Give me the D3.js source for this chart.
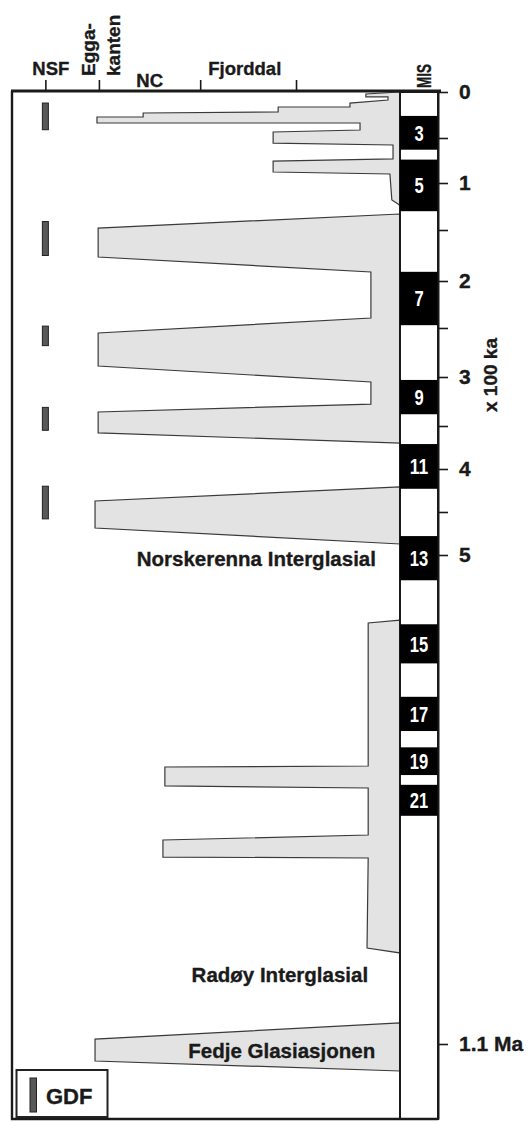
<!DOCTYPE html>
<html>
<head>
<meta charset="utf-8">
<script src="https://cdn.jsdelivr.net/npm/d3@7"></script>
<style>
  html, body { margin: 0; padding: 0; background: #fff; }
  svg { display: block; font-family: "Liberation Sans", Arial, Helvetica, sans-serif; font-weight: bold; }
  .heavy { stroke: #1a1a1a; stroke-width: 0.35px; paint-order: stroke; }
</style>
</head>
<body>
<svg id="chart" width="530" height="1122"></svg>
<script>
// ---- Age axis (ka) ----
const ageTicks = [0, 50, 100, 150, 200, 250, 300, 350, 400, 450, 500, 1100];
const ageTickLabels = { 0: "0", 100: "1", 200: "2", 300: "3", 400: "4", 500: "5", 1100: "1.1 Ma" };

// ---- Ice extent axis (0 = outer frame, 100 = fjord head) ----
const extentTicks = [8.6, 22.4, 48.5, 73.2];
const zoneNames = ["NSF", "NC", "Fjorddal"];
const zoneCentres = [10.0, 35.5, 60.0];

// ---- Marine isotope stages (warm stages, ka) ----
const misStage = [3, 5, 7, 9, 11, 13, 15, 17, 19, 21];
const misStart = [26, 74, 191, 303, 371, 478, 585, 674, 736, 782];
const misEnd   = [63, 130, 247, 338, 423, 531, 633, 716, 770, 820];

// ---- GDF occurrences at NSF (ka) ----
const gdfStart = [12, 141, 248, 331, 420];
const gdfEnd   = [41, 175, 268, 355, 458];
const gdfExtent = 8.6;

// ---- Ice extent outlines: [extent, age ka] ----
const iceLateWeichsel = [
  [100, 0], [91.2, 2.2], [91.2, 5.4], [96.9, 5.4], [96.9, 8.7], [87.1, 12.0], [87.1, 16.3],
  [68.6, 16.3], [68.6, 21.7], [33.8, 22.8], [33.8, 27.2], [21.9, 27.2], [21.9, 33.7],
  [89.7, 33.7], [89.7, 41.3], [67.3, 43.5], [67.3, 55.6], [98.2, 57.8], [98.2, 73.3],
  [67.3, 75.6], [67.3, 87.8], [97.4, 90.0], [97.9, 118.1], [99.5, 122.3], [100, 124.5]
];
const iceSaalian = [
  [100, 133.0], [22.2, 147.9], [22.2, 176.5], [92.5, 191.2], [92.5, 239.4],
  [22.2, 255.1], [22.2, 288.8], [92.5, 305.1], [92.5, 327.6],
  [22.2, 335.7], [22.2, 358.1], [100, 369.8]
];
const iceMIS12 = [[100, 420.9], [21.4, 437.2], [21.4, 468.6], [100, 487.2]];
const iceMIS16to22 = [
  [100, 579.8], [91.8, 583.4], [91.8, 758.9], [39.4, 760.1], [39.4, 783.4],
  [91.8, 785.9], [91.8, 843.6], [38.9, 849.7], [38.9, 870.6], [91.8, 871.8],
  [91.5, 982.2], [100, 988.3]
];
const iceFedje = [[100, 1074.2], [21.4, 1093.9], [21.4, 1120.9], [100, 1133.1]];
const icePolygons = [iceLateWeichsel, iceSaalian, iceMIS12, iceMIS16to22, iceFedje];

// ---- Period labels: [text, extent (right end), age] ----
const periodNames = ["Norskerenna Interglasial", "Radøy Interglasial", "Fedje Glasiasjonen"];
const periodExtent = [93.8, 91.8, 93.6];
const periodAge = [514, 1024, 1117];

// ---- Layout ----
const svg = d3.select("#chart");
const ink = "#1a1a1a";
const colLeft = 400, colRight = 438, frameLeft = 12, frameTop = 91;

const x = d3.scaleLinear().domain([0, 100]).range([frameLeft, colLeft]);
const y = d3.scaleLinear()
  .domain([0, 50, 100, 150, 200, 250, 300, 350, 400, 450, 500, 1100, 1192])
  .range([92, 138, 183, 230, 281, 328, 377, 426, 469, 512, 555, 1044, 1119]);
const yBottom = y(1192);

// ice extent polygons
const line = d3.line().x(d => x(d[0])).y(d => y(d[1]));
svg.append("g").selectAll("path").data(icePolygons).join("path")
  .attr("d", d => line(d) + "Z")
  .attr("fill", "#e3e3e3")
  .attr("stroke", "#3a3a3a")
  .attr("stroke-width", 1.2)
  .attr("stroke-linejoin", "miter");

// GDF bars
svg.append("g").selectAll("rect").data(gdfStart).join("rect")
  .attr("x", x(gdfExtent) - 3)
  .attr("width", 6)
  .attr("y", (d, i) => y(d))
  .attr("height", (d, i) => y(gdfEnd[i]) - y(d))
  .attr("fill", "#585858")
  .attr("stroke", "#222")
  .attr("stroke-width", 1);

// MIS column
svg.append("rect")
  .attr("x", colLeft).attr("y", y(0))
  .attr("width", colRight - colLeft).attr("height", yBottom - y(0))
  .attr("fill", "#fff").attr("stroke", ink).attr("stroke-width", 2);
svg.append("g").selectAll("rect").data(misStage).join("rect")
  .attr("x", colLeft).attr("width", colRight - colLeft)
  .attr("y", (d, i) => y(misStart[i]))
  .attr("height", (d, i) => y(misEnd[i]) - y(misStart[i]))
  .attr("fill", "#000");
svg.append("g").selectAll("text").data(misStage).join("text")
  .attr("x", (colLeft + colRight) / 2)
  .attr("y", (d, i) => (y(misStart[i]) + y(misEnd[i])) / 2)
  .attr("dy", "0.36em")
  .attr("text-anchor", "middle")
  .attr("font-size", 22)
  .attr("textLength", d => String(d).length * 9.2)
  .attr("lengthAdjust", "spacingAndGlyphs")
  .attr("fill", "#fff")
  .text(d => d);

// right age axis
const yAxis = svg.append("g")
  .attr("transform", `translate(${colRight},0)`)
  .call(d3.axisRight(y).tickValues(ageTicks).tickSize(10).tickSizeOuter(0).tickPadding(11)
    .tickFormat(d => ageTickLabels[d] || ""));
yAxis.select(".domain").attr("stroke", ink).attr("stroke-width", 2);
yAxis.selectAll(".tick line").attr("stroke", ink).attr("stroke-width", 1.6);
yAxis.selectAll(".tick text").attr("font-size", 21).attr("fill", ink)
  .attr("class", "heavy")
  .attr("font-family", "Liberation Sans, Arial, sans-serif").attr("font-weight", "bold");

svg.append("text")
  .attr("class", "heavy")
  .attr("transform", `translate(497,${(y(200) + y(400)) / 2}) rotate(-90)`)
  .attr("text-anchor", "middle")
  .attr("font-size", 19).attr("fill", ink)
  .text("x 100 ka");

// top extent axis
const xAxis = svg.append("g")
  .attr("transform", `translate(0,${frameTop})`)
  .call(d3.axisTop(x).tickValues(extentTicks).tickSize(11).tickFormat(""));
xAxis.select(".domain").remove();
xAxis.selectAll(".tick line").attr("stroke", ink).attr("stroke-width", 1.6);

svg.append("line")
  .attr("x1", frameLeft - 1).attr("x2", colRight + 3)
  .attr("y1", frameTop).attr("y2", frameTop)
  .attr("stroke", ink).attr("stroke-width", 3);

// frame
svg.append("path")
  .attr("d", `M${frameLeft},${frameTop} V${yBottom} H${colRight}`)
  .attr("fill", "none").attr("stroke", ink).attr("stroke-width", 2.4);

// zone labels
svg.append("g").selectAll("text").data(zoneNames).join("text")
  .attr("class", "heavy")
  .attr("x", (d, i) => x(zoneCentres[i]))
  .attr("y", (d, i) => d === "NC" ? 87 : 75)
  .attr("text-anchor", "middle")
  .attr("font-size", 18.5).attr("fill", ink)
  .text(d => d);

const eggaLines = ["Egga-", "kanten"];
svg.append("g").selectAll("text").data(eggaLines).join("text")
  .attr("class", "heavy")
  .attr("transform", (d, i) => `translate(${x(extentTicks[1]) - 4 + i * 25},76) rotate(-90)`)
  .attr("font-size", 19).attr("fill", ink)
  .text(d => d);

svg.append("text")
  .attr("class", "heavy")
  .attr("transform", `translate(431,88) rotate(-90)`)
  .attr("font-size", 20).attr("fill", ink)
  .attr("textLength", 24).attr("lengthAdjust", "spacingAndGlyphs")
  .text("MIS");

// period labels
svg.append("g").selectAll("text").data(periodNames).join("text")
  .attr("class", "heavy")
  .attr("x", (d, i) => x(periodExtent[i]))
  .attr("y", (d, i) => y(periodAge[i]))
  .attr("text-anchor", "end")
  .attr("font-size", 20.5).attr("fill", ink)
  .text(d => d);

// legend
const legend = svg.append("g");
legend.append("rect")
  .attr("x", 16.5).attr("y", 1070).attr("width", 91).attr("height", 47)
  .attr("fill", "#fff").attr("stroke", "#222").attr("stroke-width", 2);
legend.append("rect")
  .attr("x", 30).attr("y", 1078).attr("width", 6.5).attr("height", 34)
  .attr("fill", "#585858").attr("stroke", "#222").attr("stroke-width", 1);
legend.append("text")
  .attr("class", "heavy")
  .attr("x", 46).attr("y", 1104)
  .attr("font-size", 22).attr("fill", ink)
  .text("GDF");
</script>
</body>
</html>
